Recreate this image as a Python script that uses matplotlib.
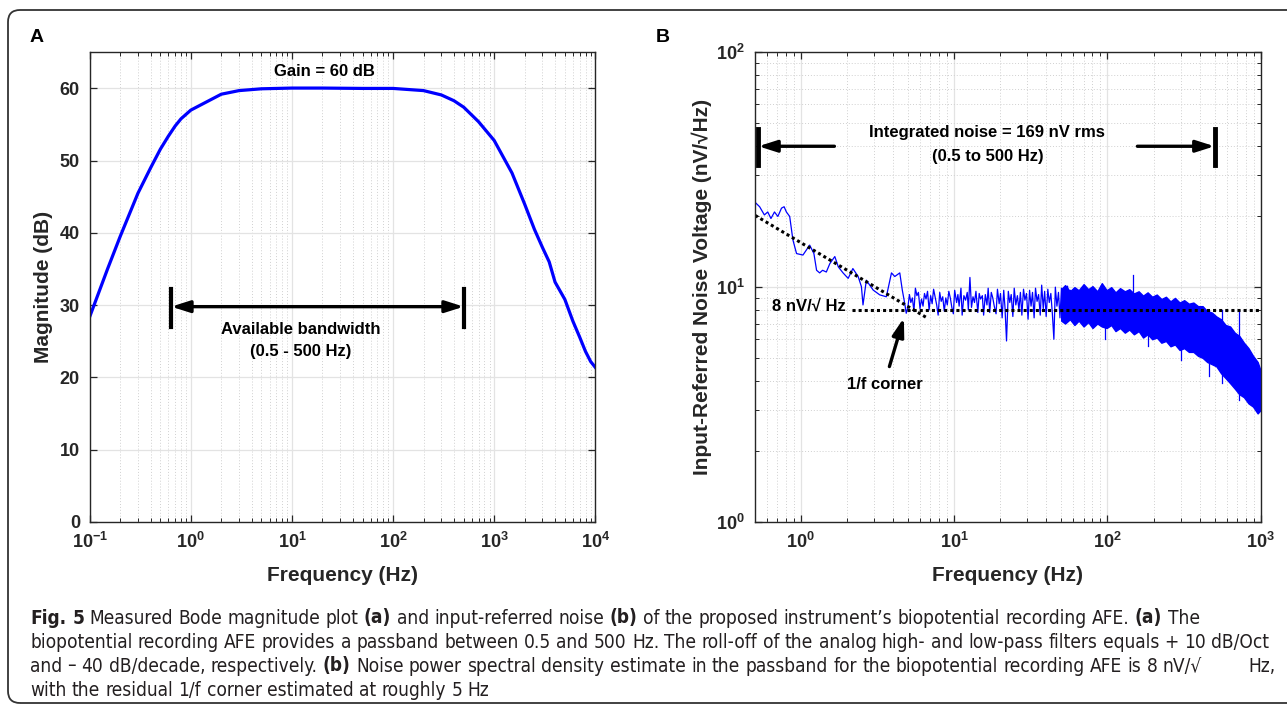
import matplotlib
matplotlib.use('Agg')
import matplotlib.pyplot as plt
from matplotlib.ticker import LogLocator, FixedLocator, NullFormatter, FixedFormatter
from matplotlib.patches import FancyBboxPatch
from matplotlib.transforms import IdentityTransform

plt.rcParams['font.family'] = ['Liberation Sans', 'DejaVu Sans']
plt.rcParams['mathtext.fontset'] = 'custom'
plt.rcParams['mathtext.bf'] = 'Liberation Sans:bold'
plt.rcParams['mathtext.rm'] = 'Liberation Sans'

# ---- panel A: Bode magnitude ----
bode_f = [0.1, 0.15, 0.2, 0.3, 0.4, 0.5, 0.6, 0.7, 0.8, 1.0, 2, 3, 5, 10, 20, 50,
          100, 200, 300, 400, 500, 700, 1000, 1500, 2000, 2500, 3000, 3500, 4000,
          5000, 6000, 7000, 8000, 9000, 10000]
bode_db = [28.4, 35.0, 39.5, 45.5, 49.0, 51.6, 53.4, 54.8, 55.8, 57.0, 59.2, 59.7,
           59.95, 60.05, 60.05, 60.0, 60.0, 59.7, 59.1, 58.3, 57.4, 55.4, 52.8, 48.3,
           44.0, 40.5, 38.0, 36.0, 33.2, 30.8, 27.8, 25.6, 23.6, 22.2, 21.4]

# ---- panel B: input-referred noise ----
# low-frequency trace (0.5 - 5 Hz)
low_f = [0.50, 0.54, 0.58, 0.61, 0.64, 0.675, 0.71, 0.75, 0.78, 0.807, 0.848, 0.89,
         0.94, 1.035, 1.09, 1.145, 1.22, 1.27, 1.33, 1.39, 1.47, 1.55, 1.67, 1.76,
         1.89, 2.04, 2.19, 2.37, 2.49, 2.55, 2.68, 2.97, 3.28, 3.62, 3.91, 4.11,
         4.43, 4.6, 4.77, 4.88]
low_v = [23.1, 22.0, 20.3, 20.9, 19.6, 20.9, 20.0, 21.7, 22.0, 20.9, 20.0, 15.9,
         13.9, 13.7, 14.4, 15.1, 13.9, 11.8, 11.5, 11.8, 11.6, 12.6, 13.5, 12.2,
         11.5, 10.9, 12.0, 11.1, 10.05, 8.4, 10.7, 9.72, 9.27, 9.1, 11.5, 11.1,
         11.5, 9.72, 8.53, 7.74]

# mid-frequency trace (5 - 60 Hz), fluctuating around the white-noise floor
mid_f = [5.00, 5.12, 5.23, 5.35, 5.48, 5.60, 5.73, 5.86, 6.00, 6.14,
         6.28, 6.42, 6.57, 6.72, 6.88, 7.04, 7.20, 7.36, 7.53, 7.71,
         7.88, 8.07, 8.25, 8.44, 8.64, 8.84, 9.04, 9.25, 9.46, 9.68,
         9.90, 10.1, 10.4, 10.6, 10.8, 11.1, 11.3, 11.6, 11.9, 12.2,
         12.4, 12.7, 13.0, 13.3, 13.6, 13.9, 14.3, 14.6, 14.9, 15.3,
         15.6, 16.0, 16.4, 16.7, 17.1, 17.5, 17.9, 18.3, 18.8, 19.2,
         19.7, 20.1, 20.6, 21.1, 21.5, 22.0, 22.6, 23.1, 23.6, 24.2,
         24.7, 25.3, 25.9, 26.5, 27.1, 27.7, 28.4, 29.0, 29.7, 30.4,
         31.1, 31.8, 32.5, 33.3, 34.0, 34.8, 35.6, 36.5, 37.3, 38.2,
         39.0, 39.9, 40.9, 41.8, 42.8, 43.8, 44.8, 45.8, 46.9, 48.0,
         49.1, 50.2, 51.4, 52.5, 53.8, 55.0, 56.3, 57.6, 58.9, 60.3]
mid_v = [8.2, 9.3, 8.6, 9.0, 7.9, 9.9, 9.2, 9.5, 8.1, 8.9,
         8.3, 9.4, 8.9, 9.6, 8.0, 9.2, 8.5, 9.8, 9.1, 8.4,
         7.6, 9.5, 8.7, 9.1, 7.9, 9.0, 8.4, 9.6, 9.0, 8.2,
         7.7, 9.7, 8.6, 9.3, 8.3, 9.9, 7.6, 9.2, 8.8, 9.5,
         8.0, 11.0, 8.2, 9.1, 8.6, 9.6, 7.8, 9.4, 8.9, 9.2,
         7.6, 9.3, 8.4, 9.9, 7.8, 9.5, 9.0, 8.3, 7.7, 9.8,
         8.5, 9.4, 7.4, 9.7, 8.2, 5.9, 9.6, 8.6, 9.3, 7.5,
         9.9, 8.4, 9.2, 8.0, 9.5, 7.6, 9.8, 8.8, 9.4, 7.3,
         9.7, 8.3, 9.5, 7.4, 9.9, 8.7, 9.3, 7.6, 10.2, 8.1,
         9.6, 7.5, 9.8, 8.6, 9.4, 7.7, 6.0, 10.0, 8.3, 9.5,
         7.4, 9.9, 8.5, 9.6, 7.2, 10.1, 8.2, 9.7, 7.3, 9.8]

# dense high-frequency part drawn as an envelope band
band_f = [50, 53, 57, 61, 65, 70, 75, 80, 86, 92, 99, 106, 113, 121, 130, 139, 149,
          160, 171, 183, 196, 210, 225, 241, 258, 276, 296, 317, 340, 364, 390, 418,
          448, 480, 514, 551, 590, 632, 677, 725, 777, 832, 891, 955, 1000]
band_hi = [9.8, 10.2, 9.6, 10.0, 9.7, 10.3, 9.8, 10.1, 9.6, 10.4, 9.7, 10.0, 9.5,
           9.9, 9.6, 9.8, 9.4, 9.6, 9.2, 9.5, 9.1, 9.3, 8.9, 9.1, 8.7, 9.0, 8.6, 8.8,
           8.5, 8.6, 8.3, 8.3, 7.9, 7.8, 7.5, 7.3, 6.9, 6.8, 6.4, 6.2, 5.8, 5.5, 5.1,
           4.8, 4.4]
band_lo = [7.2, 7.0, 7.3, 6.9, 7.2, 6.8, 7.1, 6.7, 7.0, 6.8, 6.7, 6.9, 6.5, 6.7,
           6.4, 6.6, 6.3, 6.5, 6.1, 6.3, 6.0, 6.1, 5.8, 5.9, 5.6, 5.7, 5.4, 5.5, 5.3,
           5.3, 5.1, 5.0, 4.8, 4.7, 4.6, 4.3, 4.1, 3.9, 3.7, 3.5, 3.4, 3.2, 3.1, 2.9,
           3.0]

# isolated spikes sticking out of the band
spike_f = [96.4, 148, 183, 300, 457, 560, 720]
spike_v = [6.0, 11.3, 5.6, 4.9, 4.2, 3.9, 3.3]

W, H, DPI = 1287, 710, 100
fig = plt.figure(figsize=(W / DPI, H / DPI), dpi=DPI)

# outer rounded frame
frame = FancyBboxPatch((8, 7), 1320, 693, boxstyle='round,pad=0,rounding_size=12',
                       transform=IdentityTransform(), fill=False, lw=1.3,
                       edgecolor='#333333', clip_on=False)
fig.patches.append(frame)

TXT = '#262626'
BLUE = '#0000ff'
axA = fig.add_axes([89.7 / W, 1 - 522 / H, (595.3 - 89.7) / W, (522 - 52.3) / H])
axB = fig.add_axes([754.5 / W, 1 - 522 / H, (1260.7 - 754.5) / W, (522 - 52.3) / H])


def style_axes(ax):
    for s in ax.spines.values():
        s.set_color(TXT)
        s.set_linewidth(1.0)
    ax.tick_params(which='both', direction='in', top=True, right=True,
                   colors=TXT, labelsize=13, pad=7)
    ax.tick_params(which='major', length=5, width=0.9)
    ax.tick_params(which='minor', length=3, width=0.7)
    for lab in ax.get_xticklabels() + ax.get_yticklabels():
        lab.set_fontweight('bold')


def dec_labels(exps):
    return [r'$\mathbf{10^{%d}}$' % e for e in exps]


# ---------- A ----------
axA.set_xscale('log')
axA.set_xlim(0.1, 1e4)
axA.set_ylim(0, 65)
axA.xaxis.set_major_locator(FixedLocator([10.0 ** e for e in range(-1, 5)]))
axA.xaxis.set_major_formatter(FixedFormatter(dec_labels(range(-1, 5))))
axA.xaxis.set_minor_locator(LogLocator(base=10, subs=range(2, 10), numticks=20))
axA.xaxis.set_minor_formatter(NullFormatter())
axA.set_yticks([0, 10, 20, 30, 40, 50, 60])
axA.grid(True, which='major', color='#e3e3e3', lw=0.9)
axA.grid(True, which='minor', axis='x', color='#d0d0d0', lw=0.7, linestyle=(0, (1, 2)))
axA.set_axisbelow(True)
axA.plot(bode_f, bode_db, color=BLUE, lw=2.3)
style_axes(axA)
axA.set_xlabel('Frequency (Hz)', fontsize=15, fontweight='bold', color=TXT)
axA.set_ylabel('Magnitude (dB)', fontsize=15, fontweight='bold', color=TXT)
axA.xaxis.set_label_coords(0.5, -0.094)
axA.yaxis.set_label_coords(-0.073, 0.5)

axA.text(20.8, 62.4, 'Gain = 60 dB', ha='center', va='center', fontsize=12,
         fontweight='bold', color='black')
axA.annotate('', xy=(0.64, 29.8), xytext=(500, 29.8),
             arrowprops=dict(arrowstyle='<|-|>,head_length=1.1,head_width=0.35',
                             lw=2.4, color='black', shrinkA=0, shrinkB=0))
axA.plot([0.64, 0.64], [27.0, 32.2], color='black', lw=3)
axA.plot([500, 500], [27.0, 32.2], color='black', lw=3)
axA.text(12.1, 26.6, 'Available bandwidth', ha='center', va='center', fontsize=12,
         fontweight='bold', color='black')
axA.text(12.1, 23.6, '(0.5 - 500 Hz)', ha='center', va='center', fontsize=12,
         fontweight='bold', color='black')

# ---------- B ----------
axB.set_xscale('log')
axB.set_yscale('log')
axB.set_xlim(0.5, 1000)
axB.set_ylim(1, 100)
axB.xaxis.set_major_locator(FixedLocator([1, 10, 100, 1000]))
axB.xaxis.set_major_formatter(FixedFormatter(dec_labels(range(0, 4))))
axB.xaxis.set_minor_locator(LogLocator(base=10, subs=range(2, 10), numticks=20))
axB.xaxis.set_minor_formatter(NullFormatter())
axB.yaxis.set_major_locator(FixedLocator([1, 10, 100]))
axB.yaxis.set_major_formatter(FixedFormatter(dec_labels(range(0, 3))))
axB.yaxis.set_minor_locator(LogLocator(base=10, subs=range(2, 10), numticks=20))
axB.yaxis.set_minor_formatter(NullFormatter())
axB.grid(True, which='major', color='#e3e3e3', lw=0.9)
axB.grid(True, which='minor', color='#d0d0d0', lw=0.7, linestyle=(0, (1, 2)))
axB.set_axisbelow(True)

axB.fill_between(band_f, band_lo, band_hi, color=BLUE, lw=1.0, edgecolor=BLUE)
axB.plot(low_f + mid_f, low_v + mid_v, color=BLUE, lw=0.9)
for f, v in zip(spike_f, spike_v):
    axB.plot([f, f], [8.0, v], color=BLUE, lw=0.9)

# 1/f asymptote and white-noise floor
axB.plot([0.505, 6.62], [20.2, 7.42], color='black', lw=2.2, linestyle=(0, (1, 1)),
         dash_capstyle='butt')
axB.plot([2.17, 1000], [8.0, 8.0], color='black', lw=2.2, linestyle=(0, (1, 1)),
         dash_capstyle='butt', clip_on=False)
style_axes(axB)
axB.set_xlabel('Frequency (Hz)', fontsize=15, fontweight='bold', color=TXT)
axB.set_ylabel('Input-Referred Noise Voltage (nV/\u221aHz)', fontsize=15,
               fontweight='bold', color=TXT)
axB.xaxis.set_label_coords(0.5, -0.094)
axB.yaxis.set_label_coords(-0.084, 0.5)

axB.text(1.98, 8.3, '8 nV/\u221a Hz', ha='right', va='center', fontsize=12,
         fontweight='bold', color='black')
axB.text(16.5, 45.4, 'Integrated noise = 169 nV rms', ha='center', va='center',
         fontsize=12, fontweight='bold', color='black')
axB.text(16.5, 35.9, '(0.5 to 500 Hz)', ha='center', va='center', fontsize=12,
         fontweight='bold', color='black')
head = dict(arrowstyle='-|>,head_length=1.1,head_width=0.35', lw=2.4, color='black',
            shrinkA=0, shrinkB=0)
axB.annotate('', xy=(0.53, 39.8), xytext=(1.66, 39.8), arrowprops=head)
axB.annotate('', xy=(500, 39.8), xytext=(157, 39.8), arrowprops=head)
axB.plot([0.527, 0.527], [33.0, 47.1], color='black', lw=3.5)
axB.plot([503, 503], [33.0, 47.1], color='black', lw=3.5)
axB.annotate('', xy=(4.71, 7.4), xytext=(3.79, 4.59), arrowprops=head)
axB.text(3.52, 3.85, '1/f corner', ha='center', va='center', fontsize=12,
         fontweight='bold', color='black')

# panel letters
fig.text(37 / W, 1 - 37 / H, 'A', ha='center', va='center', fontsize=14,
         fontweight='bold', color='black')
fig.text(663 / W, 1 - 37 / H, 'B', ha='center', va='center', fontsize=14,
         fontweight='bold', color='black')

# ---------- caption ----------
CAP_FONT = ['DejaVu Sans']
cap_lines = [
    "**Fig. 5** Measured Bode magnitude plot **(a)** and input-referred noise **(b)** "
    "of the proposed instrument\u2019s biopotential recording AFE. **(a)** The",
    "biopotential recording AFE provides a passband between 0.5 and 500 Hz. The roll-off "
    "of the analog high- and low-pass filters equals + 10 dB/Oct",
    "and \u2013 40 dB/decade, respectively. **(b)** Noise power spectral density estimate "
    "in the passband for the biopotential recording AFE is 8 nV/\u221a",
    "with the residual 1/f corner estimated at roughly 5 Hz",
]
cap_y = [618, 642, 666, 690]
renderer = fig.canvas.get_renderer()


def text_w(s, size, bold):
    t = fig.text(0, 0, s, fontsize=size, family=CAP_FONT, fontstretch='condensed',
                 fontweight='bold' if bold else 'normal', transform=IdentityTransform())
    w = t.get_window_extent(renderer).width
    t.remove()
    return w


def draw_line(s, x, y, size, draw=True):
    sp = {b: text_w('a a', size, b) - text_w('aa', size, b) for b in (False, True)}
    for i, part in enumerate(s.split('**')):
        bold = i % 2 == 1
        words = part.split(' ')
        for j, w in enumerate(words):
            if j > 0:
                x += sp[bold]
            if w:
                if draw:
                    fig.text(x, y, w, fontsize=size, family=CAP_FONT, color='#231f20',
                             fontstretch='condensed',
                             fontweight='bold' if bold else 'normal', va='center',
                             transform=IdentityTransform())
                x += text_w(w, size, bold)
    return x


x0 = 30
base = 10.0
line_w = draw_line(cap_lines[1], 0, 0, base, draw=False)
cap_size = base * (1274 - x0) / line_w
for s, yy in zip(cap_lines, cap_y):
    draw_line(s, x0, H - yy, cap_size)
fig.text(1276, H - cap_y[2], 'Hz,', fontsize=cap_size, family=CAP_FONT,
         fontstretch='condensed', color='#231f20', ha='right', va='center',
         transform=IdentityTransform())

fig.savefig('out.png', dpi=DPI)
